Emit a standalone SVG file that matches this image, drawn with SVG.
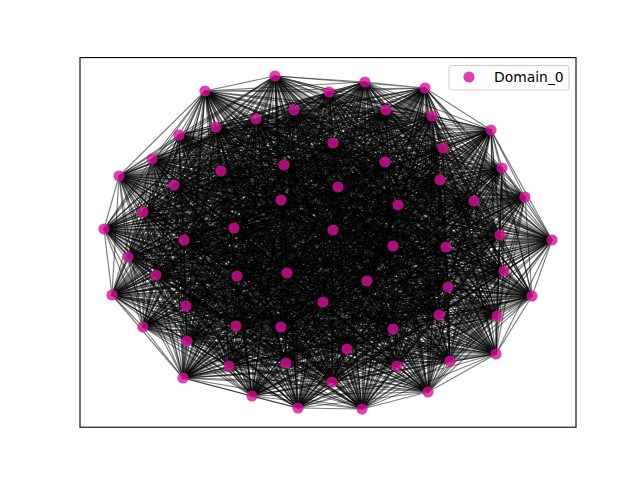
<svg xmlns="http://www.w3.org/2000/svg" width="640" height="480" viewBox="0 0 640 480">
<style>
.e{fill:none;stroke:#000;stroke-opacity:.5;stroke-width:1.2;stroke-linejoin:round}
.n{fill:#d71296;fill-opacity:.8}
.t{font-family:"DejaVu Sans",sans-serif;font-size:13.9px;fill:#000}
</style>
<rect width="640" height="480" fill="#fff"/>
<g id="edges">
<polyline class="e" points="275 76 365 82 362 409 425 88 298 408 329 92 252 396 205 91 428 392 294 110 332 382 386 110 183 378 432 116 397 366 256 119 286 363 216 127 229 366 179 135 450 361 491 130 496 354 333 143 347 349 443 148 187 341 152 159 393 329 284 165 281 327 385 162 236 326 221 171 143 327 502 168 497 316 119 176 439 315 440 180 186 306 174 185 323 302 338 187 532 296 525 197 112 295 281 200 448 287 474 201 367 281 398 205 156 275 143 212 237 276 234 228 287 273 333 230 504 271 104 229 128 257 500 235 446 247 552 240 393 246 184 240"/>
<polyline class="e" points="365 82 425 88 275 76 329 92 362 409 205 91 298 408 294 110 252 396 386 110 428 392 432 116 332 382 256 119 183 378 216 127 397 366 179 135 286 363 491 130 229 366 333 143 450 361 443 148 496 354 152 159 347 349 284 165 187 341 385 162 393 329 221 171 281 327 502 168 236 326 119 176 143 327 440 180 497 316 174 185 439 315 338 187 186 306 525 197 323 302 281 200 532 296 474 201 112 295 398 205 448 287 143 212 367 281 234 228 156 275 333 230 237 276 104 229 287 273 500 235 504 271 552 240 128 257 184 240 446 247 393 246"/>
<polyline class="e" points="425 88 329 92 365 82 205 91 275 76 294 110 362 409 386 110 298 408 432 116 252 396 256 119 428 392 216 127 332 382 179 135 183 378 491 130 397 366 333 143 286 363 443 148 229 366 152 159 450 361 284 165 496 354 385 162 347 349 221 171 187 341 502 168 393 329 119 176 281 327 440 180 236 326 174 185 143 327 338 187 497 316 525 197 439 315 281 200 186 306 474 201 323 302 398 205 532 296 143 212 112 295 234 228 448 287 333 230 367 281 104 229 156 275 500 235 237 276 552 240 287 273 184 240 504 271 393 246 128 257 446 247"/>
<polyline class="e" points="329 92 205 91 425 88 294 110 365 82 386 110 275 76 432 116 362 409 256 119 298 408 216 127 252 396 179 135 428 392 491 130 332 382 333 143 183 378 443 148 397 366 152 159 286 363 284 165 229 366 385 162 450 361 221 171 496 354 502 168 347 349 119 176 187 341 440 180 393 329 174 185 281 327 338 187 236 326 525 197 143 327 281 200 497 316 474 201 439 315 398 205 186 306 143 212 323 302 234 228 532 296 333 230 112 295 104 229 448 287 500 235 367 281 552 240 156 275 184 240 237 276 393 246 287 273 446 247 504 271 128 257"/>
<polyline class="e" points="205 91 294 110 329 92 386 110 425 88 432 116 365 82 256 119 275 76 216 127 362 409 179 135 298 408 491 130 252 396 333 143 428 392 443 148 332 382 152 159 183 378 284 165 397 366 385 162 286 363 221 171 229 366 502 168 450 361 119 176 496 354 440 180 347 349 174 185 187 341 338 187 393 329 525 197 281 327 281 200 236 326 474 201 143 327 398 205 497 316 143 212 439 315 234 228 186 306 333 230 323 302 104 229 532 296 500 235 112 295 552 240 448 287 184 240 367 281 393 246 156 275 446 247 237 276 128 257 287 273 504 271"/>
<polyline class="e" points="294 110 386 110 205 91 432 116 329 92 256 119 425 88 216 127 365 82 179 135 275 76 491 130 362 409 333 143 298 408 443 148 252 396 152 159 428 392 284 165 332 382 385 162 183 378 221 171 397 366 502 168 286 363 119 176 229 366 440 180 450 361 174 185 496 354 338 187 347 349 525 197 187 341 281 200 393 329 474 201 281 327 398 205 236 326 143 212 143 327 234 228 497 316 333 230 439 315 104 229 186 306 500 235 323 302 552 240 532 296 184 240 112 295 393 246 448 287 446 247 367 281 128 257 156 275 504 271 237 276 287 273"/>
<polyline class="e" points="386 110 432 116 294 110 256 119 205 91 216 127 329 92 179 135 425 88 491 130 365 82 333 143 275 76 443 148 362 409 152 159 298 408 284 165 252 396 385 162 428 392 221 171 332 382 502 168 183 378 119 176 397 366 440 180 286 363 174 185 229 366 338 187 450 361 525 197 496 354 281 200 347 349 474 201 187 341 398 205 393 329 143 212 281 327 234 228 236 326 333 230 143 327 104 229 497 316 500 235 439 315 552 240 186 306 184 240 323 302 393 246 532 296 446 247 112 295 128 257 448 287 504 271 367 281 287 273 156 275 237 276"/>
<polyline class="e" points="432 116 256 119 386 110 216 127 294 110 179 135 205 91 491 130 329 92 333 143 425 88 443 148 365 82 152 159 275 76 284 165 362 409 385 162 298 408 221 171 252 396 502 168 428 392 119 176 332 382 440 180 183 378 174 185 397 366 338 187 286 363 525 197 229 366 281 200 450 361 474 201 496 354 398 205 347 349 143 212 187 341 234 228 393 329 333 230 281 327 104 229 236 326 500 235 143 327 552 240 497 316 184 240 439 315 393 246 186 306 446 247 323 302 128 257 532 296 504 271 112 295 287 273 448 287 237 276 367 281 156 275"/>
<polyline class="e" points="256 119 216 127 432 116 179 135 386 110 491 130 294 110 333 143 205 91 443 148 329 92 152 159 425 88 284 165 365 82 385 162 275 76 221 171 362 409 502 168 298 408 119 176 252 396 440 180 428 392 174 185 332 382 338 187 183 378 525 197 397 366 281 200 286 363 474 201 229 366 398 205 450 361 143 212 496 354 234 228 347 349 333 230 187 341 104 229 393 329 500 235 281 327 552 240 236 326 184 240 143 327 393 246 497 316 446 247 439 315 128 257 186 306 504 271 323 302 287 273 532 296 237 276 112 295 156 275 448 287 367 281"/>
<polyline class="e" points="216 127 179 135 256 119 491 130 432 116 333 143 386 110 443 148 294 110 152 159 205 91 284 165 329 92 385 162 425 88 221 171 365 82 502 168 275 76 119 176 362 409 440 180 298 408 174 185 252 396 338 187 428 392 525 197 332 382 281 200 183 378 474 201 397 366 398 205 286 363 143 212 229 366 234 228 450 361 333 230 496 354 104 229 347 349 500 235 187 341 552 240 393 329 184 240 281 327 393 246 236 326 446 247 143 327 128 257 497 316 504 271 439 315 287 273 186 306 237 276 323 302 156 275 532 296 367 281 112 295 448 287"/>
<polyline class="e" points="179 135 491 130 216 127 333 143 256 119 443 148 432 116 152 159 386 110 284 165 294 110 385 162 205 91 221 171 329 92 502 168 425 88 119 176 365 82 440 180 275 76 174 185 362 409 338 187 298 408 525 197 252 396 281 200 428 392 474 201 332 382 398 205 183 378 143 212 397 366 234 228 286 363 333 230 229 366 104 229 450 361 500 235 496 354 552 240 347 349 184 240 187 341 393 246 393 329 446 247 281 327 128 257 236 326 504 271 143 327 287 273 497 316 237 276 439 315 156 275 186 306 367 281 323 302 448 287 532 296 112 295"/>
<polyline class="e" points="491 130 333 143 179 135 443 148 216 127 152 159 256 119 284 165 432 116 385 162 386 110 221 171 294 110 502 168 205 91 119 176 329 92 440 180 425 88 174 185 365 82 338 187 275 76 525 197 362 409 281 200 298 408 474 201 252 396 398 205 428 392 143 212 332 382 234 228 183 378 333 230 397 366 104 229 286 363 500 235 229 366 552 240 450 361 184 240 496 354 393 246 347 349 446 247 187 341 128 257 393 329 504 271 281 327 287 273 236 326 237 276 143 327 156 275 497 316 367 281 439 315 448 287 186 306 112 295 323 302 532 296"/>
<polyline class="e" points="333 143 443 148 491 130 152 159 179 135 284 165 216 127 385 162 256 119 221 171 432 116 502 168 386 110 119 176 294 110 440 180 205 91 174 185 329 92 338 187 425 88 525 197 365 82 281 200 275 76 474 201 362 409 398 205 298 408 143 212 252 396 234 228 428 392 333 230 332 382 104 229 183 378 500 235 397 366 552 240 286 363 184 240 229 366 393 246 450 361 446 247 496 354 128 257 347 349 504 271 187 341 287 273 393 329 237 276 281 327 156 275 236 326 367 281 143 327 448 287 497 316 112 295 439 315 532 296 186 306 323 302"/>
<polyline class="e" points="443 148 152 159 333 143 284 165 491 130 385 162 179 135 221 171 216 127 502 168 256 119 119 176 432 116 440 180 386 110 174 185 294 110 338 187 205 91 525 197 329 92 281 200 425 88 474 201 365 82 398 205 275 76 143 212 362 409 234 228 298 408 333 230 252 396 104 229 428 392 500 235 332 382 552 240 183 378 184 240 397 366 393 246 286 363 446 247 229 366 128 257 450 361 504 271 496 354 287 273 347 349 237 276 187 341 156 275 393 329 367 281 281 327 448 287 236 326 112 295 143 327 532 296 497 316 323 302 439 315 186 306"/>
<polyline class="e" points="152 159 284 165 443 148 385 162 333 143 221 171 491 130 502 168 179 135 119 176 216 127 440 180 256 119 174 185 432 116 338 187 386 110 525 197 294 110 281 200 205 91 474 201 329 92 398 205 425 88 143 212 365 82 234 228 275 76 333 230 362 409 104 229 298 408 500 235 252 396 552 240 428 392 184 240 332 382 393 246 183 378 446 247 397 366 128 257 286 363 504 271 229 366 287 273 450 361 237 276 496 354 156 275 347 349 367 281 187 341 448 287 393 329 112 295 281 327 532 296 236 326 323 302 143 327 186 306 497 316 439 315"/>
<polyline class="e" points="284 165 385 162 152 159 221 171 443 148 502 168 333 143 119 176 491 130 440 180 179 135 174 185 216 127 338 187 256 119 525 197 432 116 281 200 386 110 474 201 294 110 398 205 205 91 143 212 329 92 234 228 425 88 333 230 365 82 104 229 275 76 500 235 362 409 552 240 298 408 184 240 252 396 393 246 428 392 446 247 332 382 128 257 183 378 504 271 397 366 287 273 286 363 237 276 229 366 156 275 450 361 367 281 496 354 448 287 347 349 112 295 187 341 532 296 393 329 323 302 281 327 186 306 236 326 439 315 143 327 497 316"/>
<polyline class="e" points="385 162 221 171 284 165 502 168 152 159 119 176 443 148 440 180 333 143 174 185 491 130 338 187 179 135 525 197 216 127 281 200 256 119 474 201 432 116 398 205 386 110 143 212 294 110 234 228 205 91 333 230 329 92 104 229 425 88 500 235 365 82 552 240 275 76 184 240 362 409 393 246 298 408 446 247 252 396 128 257 428 392 504 271 332 382 287 273 183 378 237 276 397 366 156 275 286 363 367 281 229 366 448 287 450 361 112 295 496 354 532 296 347 349 323 302 187 341 186 306 393 329 439 315 281 327 497 316 236 326 143 327"/>
<polyline class="e" points="221 171 502 168 385 162 119 176 284 165 440 180 152 159 174 185 443 148 338 187 333 143 525 197 491 130 281 200 179 135 474 201 216 127 398 205 256 119 143 212 432 116 234 228 386 110 333 230 294 110 104 229 205 91 500 235 329 92 552 240 425 88 184 240 365 82 393 246 275 76 446 247 362 409 128 257 298 408 504 271 252 396 287 273 428 392 237 276 332 382 156 275 183 378 367 281 397 366 448 287 286 363 112 295 229 366 532 296 450 361 323 302 496 354 186 306 347 349 439 315 187 341 497 316 393 329 143 327 281 327 236 326"/>
<polyline class="e" points="502 168 119 176 221 171 440 180 385 162 174 185 284 165 338 187 152 159 525 197 443 148 281 200 333 143 474 201 491 130 398 205 179 135 143 212 216 127 234 228 256 119 333 230 432 116 104 229 386 110 500 235 294 110 552 240 205 91 184 240 329 92 393 246 425 88 446 247 365 82 128 257 275 76 504 271 362 409 287 273 298 408 237 276 252 396 156 275 428 392 367 281 332 382 448 287 183 378 112 295 397 366 532 296 286 363 323 302 229 366 186 306 450 361 439 315 496 354 497 316 347 349 143 327 187 341 236 326 393 329 281 327"/>
<polyline class="e" points="119 176 440 180 502 168 174 185 221 171 338 187 385 162 525 197 284 165 281 200 152 159 474 201 443 148 398 205 333 143 143 212 491 130 234 228 179 135 333 230 216 127 104 229 256 119 500 235 432 116 552 240 386 110 184 240 294 110 393 246 205 91 446 247 329 92 128 257 425 88 504 271 365 82 287 273 275 76 237 276 362 409 156 275 298 408 367 281 252 396 448 287 428 392 112 295 332 382 532 296 183 378 323 302 397 366 186 306 286 363 439 315 229 366 497 316 450 361 143 327 496 354 236 326 347 349 281 327 187 341 393 329"/>
<polyline class="e" points="440 180 174 185 119 176 338 187 502 168 525 197 221 171 281 200 385 162 474 201 284 165 398 205 152 159 143 212 443 148 234 228 333 143 333 230 491 130 104 229 179 135 500 235 216 127 552 240 256 119 184 240 432 116 393 246 386 110 446 247 294 110 128 257 205 91 504 271 329 92 287 273 425 88 237 276 365 82 156 275 275 76 367 281 362 409 448 287 298 408 112 295 252 396 532 296 428 392 323 302 332 382 186 306 183 378 439 315 397 366 497 316 286 363 143 327 229 366 236 326 450 361 281 327 496 354 393 329 347 349 187 341"/>
<polyline class="e" points="174 185 338 187 440 180 525 197 119 176 281 200 502 168 474 201 221 171 398 205 385 162 143 212 284 165 234 228 152 159 333 230 443 148 104 229 333 143 500 235 491 130 552 240 179 135 184 240 216 127 393 246 256 119 446 247 432 116 128 257 386 110 504 271 294 110 287 273 205 91 237 276 329 92 156 275 425 88 367 281 365 82 448 287 275 76 112 295 362 409 532 296 298 408 323 302 252 396 186 306 428 392 439 315 332 382 497 316 183 378 143 327 397 366 236 326 286 363 281 327 229 366 393 329 450 361 187 341 496 354 347 349"/>
<polyline class="e" points="338 187 525 197 174 185 281 200 440 180 474 201 119 176 398 205 502 168 143 212 221 171 234 228 385 162 333 230 284 165 104 229 152 159 500 235 443 148 552 240 333 143 184 240 491 130 393 246 179 135 446 247 216 127 128 257 256 119 504 271 432 116 287 273 386 110 237 276 294 110 156 275 205 91 367 281 329 92 448 287 425 88 112 295 365 82 532 296 275 76 323 302 362 409 186 306 298 408 439 315 252 396 497 316 428 392 143 327 332 382 236 326 183 378 281 327 397 366 393 329 286 363 187 341 229 366 347 349 450 361 496 354"/>
<polyline class="e" points="525 197 281 200 338 187 474 201 174 185 398 205 440 180 143 212 119 176 234 228 502 168 333 230 221 171 104 229 385 162 500 235 284 165 552 240 152 159 184 240 443 148 393 246 333 143 446 247 491 130 128 257 179 135 504 271 216 127 287 273 256 119 237 276 432 116 156 275 386 110 367 281 294 110 448 287 205 91 112 295 329 92 532 296 425 88 323 302 365 82 186 306 275 76 439 315 362 409 497 316 298 408 143 327 252 396 236 326 428 392 281 327 332 382 393 329 183 378 187 341 397 366 347 349 286 363 496 354 229 366 450 361"/>
<polyline class="e" points="281 200 474 201 525 197 398 205 338 187 143 212 174 185 234 228 440 180 333 230 119 176 104 229 502 168 500 235 221 171 552 240 385 162 184 240 284 165 393 246 152 159 446 247 443 148 128 257 333 143 504 271 491 130 287 273 179 135 237 276 216 127 156 275 256 119 367 281 432 116 448 287 386 110 112 295 294 110 532 296 205 91 323 302 329 92 186 306 425 88 439 315 365 82 497 316 275 76 143 327 362 409 236 326 298 408 281 327 252 396 393 329 428 392 187 341 332 382 347 349 183 378 496 354 397 366 450 361 286 363 229 366"/>
<polyline class="e" points="474 201 398 205 281 200 143 212 525 197 234 228 338 187 333 230 174 185 104 229 440 180 500 235 119 176 552 240 502 168 184 240 221 171 393 246 385 162 446 247 284 165 128 257 152 159 504 271 443 148 287 273 333 143 237 276 491 130 156 275 179 135 367 281 216 127 448 287 256 119 112 295 432 116 532 296 386 110 323 302 294 110 186 306 205 91 439 315 329 92 497 316 425 88 143 327 365 82 236 326 275 76 281 327 362 409 393 329 298 408 187 341 252 396 347 349 428 392 496 354 332 382 450 361 183 378 229 366 397 366 286 363"/>
<polyline class="e" points="398 205 143 212 474 201 234 228 281 200 333 230 525 197 104 229 338 187 500 235 174 185 552 240 440 180 184 240 119 176 393 246 502 168 446 247 221 171 128 257 385 162 504 271 284 165 287 273 152 159 237 276 443 148 156 275 333 143 367 281 491 130 448 287 179 135 112 295 216 127 532 296 256 119 323 302 432 116 186 306 386 110 439 315 294 110 497 316 205 91 143 327 329 92 236 326 425 88 281 327 365 82 393 329 275 76 187 341 362 409 347 349 298 408 496 354 252 396 450 361 428 392 229 366 332 382 286 363 183 378 397 366"/>
<polyline class="e" points="143 212 234 228 398 205 333 230 474 201 104 229 281 200 500 235 525 197 552 240 338 187 184 240 174 185 393 246 440 180 446 247 119 176 128 257 502 168 504 271 221 171 287 273 385 162 237 276 284 165 156 275 152 159 367 281 443 148 448 287 333 143 112 295 491 130 532 296 179 135 323 302 216 127 186 306 256 119 439 315 432 116 497 316 386 110 143 327 294 110 236 326 205 91 281 327 329 92 393 329 425 88 187 341 365 82 347 349 275 76 496 354 362 409 450 361 298 408 229 366 252 396 286 363 428 392 397 366 332 382 183 378"/>
<polyline class="e" points="234 228 333 230 143 212 104 229 398 205 500 235 474 201 552 240 281 200 184 240 525 197 393 246 338 187 446 247 174 185 128 257 440 180 504 271 119 176 287 273 502 168 237 276 221 171 156 275 385 162 367 281 284 165 448 287 152 159 112 295 443 148 532 296 333 143 323 302 491 130 186 306 179 135 439 315 216 127 497 316 256 119 143 327 432 116 236 326 386 110 281 327 294 110 393 329 205 91 187 341 329 92 347 349 425 88 496 354 365 82 450 361 275 76 229 366 362 409 286 363 298 408 397 366 252 396 183 378 428 392 332 382"/>
<polyline class="e" points="333 230 104 229 234 228 500 235 143 212 552 240 398 205 184 240 474 201 393 246 281 200 446 247 525 197 128 257 338 187 504 271 174 185 287 273 440 180 237 276 119 176 156 275 502 168 367 281 221 171 448 287 385 162 112 295 284 165 532 296 152 159 323 302 443 148 186 306 333 143 439 315 491 130 497 316 179 135 143 327 216 127 236 326 256 119 281 327 432 116 393 329 386 110 187 341 294 110 347 349 205 91 496 354 329 92 450 361 425 88 229 366 365 82 286 363 275 76 397 366 362 409 183 378 298 408 332 382 252 396 428 392"/>
<polyline class="e" points="104 229 500 235 333 230 552 240 234 228 184 240 143 212 393 246 398 205 446 247 474 201 128 257 281 200 504 271 525 197 287 273 338 187 237 276 174 185 156 275 440 180 367 281 119 176 448 287 502 168 112 295 221 171 532 296 385 162 323 302 284 165 186 306 152 159 439 315 443 148 497 316 333 143 143 327 491 130 236 326 179 135 281 327 216 127 393 329 256 119 187 341 432 116 347 349 386 110 496 354 294 110 450 361 205 91 229 366 329 92 286 363 425 88 397 366 365 82 183 378 275 76 332 382 362 409 428 392 298 408 252 396"/>
<polyline class="e" points="500 235 552 240 104 229 184 240 333 230 393 246 234 228 446 247 143 212 128 257 398 205 504 271 474 201 287 273 281 200 237 276 525 197 156 275 338 187 367 281 174 185 448 287 440 180 112 295 119 176 532 296 502 168 323 302 221 171 186 306 385 162 439 315 284 165 497 316 152 159 143 327 443 148 236 326 333 143 281 327 491 130 393 329 179 135 187 341 216 127 347 349 256 119 496 354 432 116 450 361 386 110 229 366 294 110 286 363 205 91 397 366 329 92 183 378 425 88 332 382 365 82 428 392 275 76 252 396 362 409 298 408"/>
<polyline class="e" points="552 240 184 240 500 235 393 246 104 229 446 247 333 230 128 257 234 228 504 271 143 212 287 273 398 205 237 276 474 201 156 275 281 200 367 281 525 197 448 287 338 187 112 295 174 185 532 296 440 180 323 302 119 176 186 306 502 168 439 315 221 171 497 316 385 162 143 327 284 165 236 326 152 159 281 327 443 148 393 329 333 143 187 341 491 130 347 349 179 135 496 354 216 127 450 361 256 119 229 366 432 116 286 363 386 110 397 366 294 110 183 378 205 91 332 382 329 92 428 392 425 88 252 396 365 82 298 408 275 76 362 409"/>
</g>
<rect x="80" y="57.6" width="496" height="369.6" fill="none" stroke="#000" stroke-width="1.1"/>
<g id="nodes">
<g id="n0"><circle class="n" cx="275" cy="76" r="5.6"/></g>
<g id="n1"><circle class="n" cx="365" cy="82" r="5.6"/></g>
<g id="n2"><circle class="n" cx="425" cy="88" r="5.6"/></g>
<g id="n3"><circle class="n" cx="329" cy="92" r="5.6"/></g>
<g id="n4"><circle class="n" cx="205" cy="91" r="5.6"/></g>
<g id="n5"><circle class="n" cx="294" cy="110" r="5.6"/></g>
<g id="n6"><circle class="n" cx="386" cy="110" r="5.6"/></g>
<g id="n7"><circle class="n" cx="432" cy="116" r="5.6"/></g>
<g id="n8"><circle class="n" cx="256" cy="119" r="5.6"/></g>
<g id="n9"><circle class="n" cx="216" cy="127" r="5.6"/></g>
<g id="n10"><circle class="n" cx="179" cy="135" r="5.6"/></g>
<g id="n11"><circle class="n" cx="491" cy="130" r="5.6"/></g>
<g id="n12"><circle class="n" cx="333" cy="143" r="5.6"/></g>
<g id="n13"><circle class="n" cx="443" cy="148" r="5.6"/></g>
<g id="n14"><circle class="n" cx="152" cy="159" r="5.6"/></g>
<g id="n15"><circle class="n" cx="284" cy="165" r="5.6"/></g>
<g id="n16"><circle class="n" cx="385" cy="162" r="5.6"/></g>
<g id="n17"><circle class="n" cx="221" cy="171" r="5.6"/></g>
<g id="n18"><circle class="n" cx="502" cy="168" r="5.6"/></g>
<g id="n19"><circle class="n" cx="119" cy="176" r="5.6"/></g>
<g id="n20"><circle class="n" cx="440" cy="180" r="5.6"/></g>
<g id="n21"><circle class="n" cx="174" cy="185" r="5.6"/></g>
<g id="n22"><circle class="n" cx="338" cy="187" r="5.6"/></g>
<g id="n23"><circle class="n" cx="525" cy="197" r="5.6"/></g>
<g id="n24"><circle class="n" cx="281" cy="200" r="5.6"/></g>
<g id="n25"><circle class="n" cx="474" cy="201" r="5.6"/></g>
<g id="n26"><circle class="n" cx="398" cy="205" r="5.6"/></g>
<g id="n27"><circle class="n" cx="143" cy="212" r="5.6"/></g>
<g id="n28"><circle class="n" cx="234" cy="228" r="5.6"/></g>
<g id="n29"><circle class="n" cx="333" cy="230" r="5.6"/></g>
<g id="n30"><circle class="n" cx="104" cy="229" r="5.6"/></g>
<g id="n31"><circle class="n" cx="500" cy="235" r="5.6"/></g>
<g id="n32"><circle class="n" cx="552" cy="240" r="5.6"/></g>
<g id="n33"><circle class="n" cx="184" cy="240" r="5.6"/></g>
<g id="n34"><circle class="n" cx="393" cy="246" r="5.6"/></g>
<g id="n35"><circle class="n" cx="446" cy="247" r="5.6"/></g>
<g id="n36"><circle class="n" cx="128" cy="257" r="5.6"/></g>
<g id="n37"><circle class="n" cx="504" cy="271" r="5.6"/></g>
<g id="n38"><circle class="n" cx="287" cy="273" r="5.6"/></g>
<g id="n39"><circle class="n" cx="237" cy="276" r="5.6"/></g>
<g id="n40"><circle class="n" cx="156" cy="275" r="5.6"/></g>
<g id="n41"><circle class="n" cx="367" cy="281" r="5.6"/></g>
<g id="n42"><circle class="n" cx="448" cy="287" r="5.6"/></g>
<g id="n43"><circle class="n" cx="112" cy="295" r="5.6"/></g>
<g id="n44"><circle class="n" cx="532" cy="296" r="5.6"/></g>
<g id="n45"><circle class="n" cx="323" cy="302" r="5.6"/></g>
<g id="n46"><circle class="n" cx="186" cy="306" r="5.6"/></g>
<g id="n47"><circle class="n" cx="439" cy="315" r="5.6"/></g>
<g id="n48"><circle class="n" cx="497" cy="316" r="5.6"/></g>
<g id="n49"><circle class="n" cx="143" cy="327" r="5.6"/></g>
<g id="n50"><circle class="n" cx="236" cy="326" r="5.6"/></g>
<g id="n51"><circle class="n" cx="281" cy="327" r="5.6"/></g>
<g id="n52"><circle class="n" cx="393" cy="329" r="5.6"/></g>
<g id="n53"><circle class="n" cx="187" cy="341" r="5.6"/></g>
<g id="n54"><circle class="n" cx="347" cy="349" r="5.6"/></g>
<g id="n55"><circle class="n" cx="496" cy="354" r="5.6"/></g>
<g id="n56"><circle class="n" cx="450" cy="361" r="5.6"/></g>
<g id="n57"><circle class="n" cx="229" cy="366" r="5.6"/></g>
<g id="n58"><circle class="n" cx="286" cy="363" r="5.6"/></g>
<g id="n59"><circle class="n" cx="397" cy="366" r="5.6"/></g>
<g id="n60"><circle class="n" cx="183" cy="378" r="5.6"/></g>
<g id="n61"><circle class="n" cx="332" cy="382" r="5.6"/></g>
<g id="n62"><circle class="n" cx="428" cy="392" r="5.6"/></g>
<g id="n63"><circle class="n" cx="252" cy="396" r="5.6"/></g>
<g id="n64"><circle class="n" cx="298" cy="408" r="5.6"/></g>
<g id="n65"><circle class="n" cx="362" cy="409" r="5.6"/></g>
</g>
<g id="legend">
<rect x="449" y="65.5" width="120" height="24.5" rx="2.8" fill="#fff" fill-opacity=".8" stroke="#ccc" stroke-width="1"/>
<circle class="n" cx="469" cy="77" r="5.6"/>
<text class="t" x="494" y="82">Domain_0</text>
</g>
</svg>
